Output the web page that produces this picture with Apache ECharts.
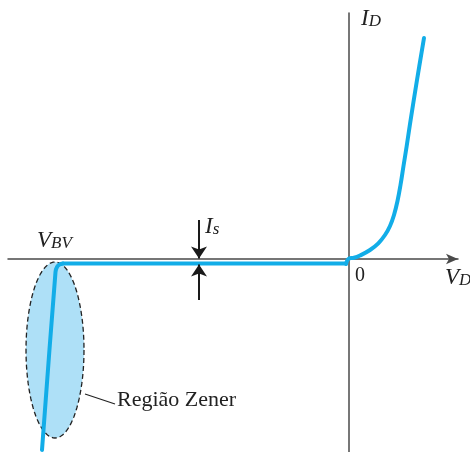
<!DOCTYPE html>
<html><head><meta charset="utf-8">
<script src="https://cdn.jsdelivr.net/npm/echarts@6/dist/echarts.min.js"></script>
<style>html,body{margin:0;padding:0;background:#fff}#c{width:470px;height:452px}</style>
</head><body><div id="c"></div>
<script>
// Diode characteristic (arbitrary units: V_D horizontal, I_D vertical)
const forwardCurve = [[-0.3,-0.5],[0,0.05],[0.5,0.12],[1.1,0.35],[2.1,0.9],[2.93,1.57],[3.6,2.4],[4.1,3.3],[4.5,4.4],[4.85,5.8],[5.15,7.4],[5.45,9.3],[5.77,11.3],[6.1,13.5],[6.8,17.9],[7.5,22.1]];
const reverseFlat = [[-0.3,-0.45],[-28.6,-0.45]];
const zenerCurve = [[-28.6,-0.45],[-28.95,-0.55],[-29.2,-0.8],[-29.35,-1.3],[-30.7,-19.1]];
const zenerRegion = [[-29.4,-9.1,2.9,8.8]]; // center x, center y, half-width, half-height
const isArrows = [[[-15,3.9],[-15,0.05]],[[-15,-4.1],[-15,-0.55]]];
const xRange = [-34.1, 10.9];
const yRange = [-19.3, 24.6];

const blue = '#12ade8';
const chart = echarts.init(document.getElementById('c'));
const serif = '"Liberation Serif","DejaVu Serif",serif';
const axisStyle = {color:'#4a4a4a', width:1.5};
function sub(main, s, size, subSize){
  return {text:'{v|'+main+'}{s|'+s+'}',rich:{
    v:{font:'italic '+size+'px '+serif,fill:'#222',verticalAlign:'bottom'},
    s:{font:'italic '+subSize+'px '+serif,fill:'#222',padding:[8,0,0,0],verticalAlign:'bottom'}}};
}

chart.setOption({
  animation:false,
  backgroundColor:'#fff',
  grid:{left:8,right:12,top:13,bottom:0,containLabel:false},
  xAxis:{type:'value',min:xRange[0],max:xRange[1],
    axisLine:{show:true,onZero:true,symbol:['none','arrow'],symbolSize:[8,12],lineStyle:axisStyle},
    axisTick:{show:false},axisLabel:{show:false},splitLine:{show:false}},
  yAxis:{type:'value',min:yRange[0],max:yRange[1],
    axisLine:{show:true,onZero:true,lineStyle:axisStyle},
    axisTick:{show:false},axisLabel:{show:false},splitLine:{show:false}},
  series:[
    {type:'custom',z:1,data:zenerRegion,renderItem:function(params,api){
      const c = api.coord([api.value(0),api.value(1)]);
      const s = api.size([api.value(2),api.value(3)]);
      const pts=[];
      for(let i=0;i<96;i++){const t=i/96*Math.PI*2;pts.push([c[0]+s[0]*Math.cos(t),c[1]+s[1]*Math.sin(t)]);}
      return {type:'polygon',shape:{points:pts},style:{fill:'#aee0f7',stroke:'#222',lineWidth:1.3,lineDash:[5,3]}};
    }},
    {type:'line',z:3,data:forwardCurve,smooth:0.4,showSymbol:false,lineStyle:{color:blue,width:4,cap:'round',join:'round'}},
    {type:'line',z:3,data:reverseFlat,showSymbol:false,lineStyle:{color:blue,width:4,cap:'round'}},
    {type:'line',z:3,data:zenerCurve,smooth:0.3,showSymbol:false,lineStyle:{color:blue,width:4,cap:'round',join:'round'}},
    {type:'lines',z:4,coordinateSystem:'cartesian2d',polyline:false,
      data:isArrows.map(a=>({coords:a})),symbol:['none','arrow'],symbolSize:[8,12],
      lineStyle:{color:'#1a1a1a',width:2,opacity:1}}
  ],
  graphic:[
    {type:'line',shape:{x1:85,y1:394,x2:115,y2:404},style:{stroke:'#222',lineWidth:1.2}},
    {type:'text',left:117,top:389,style:{text:'Região Zener',font:'22px '+serif,fill:'#222'}},
    {type:'text',left:37,top:229,style:sub('V','BV',23,17)},
    {type:'text',left:205,top:215,style:sub('I','s',23,17)},
    {type:'text',left:361,top:7,style:sub('I','D',23,17)},
    {type:'text',left:355,top:266,style:{text:'0',font:'20px '+serif,fill:'#222'}},
    {type:'text',left:445,top:266,style:sub('V','D',23,17)}
  ]
});
</script></body></html>
